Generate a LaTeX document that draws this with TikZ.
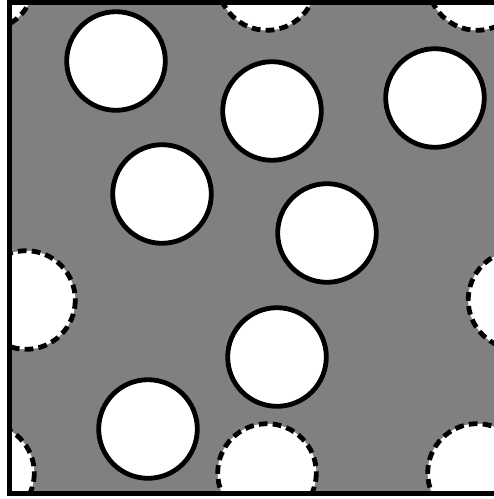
\documentclass[tikz,border=0pt]{standalone}

\begin{document}
\begin{tikzpicture}[x=0.5mm,y=-0.5mm]
\tikzset{
  cell/.style={fill=gray},
  particle/.style={draw,fill=white,line width=2.4mm},
  ghost/.style={draw,fill=white,line width=2.4mm,dash pattern=on 4.4mm off 2.6mm},
  cellwall/.style={draw,line width=2.5mm}
}
\useasboundingbox (0,0) rectangle (494,499);
\fill[cell] (9,2) rectangle (500.5,493.5);
% periodic images cut by the cell
\begin{scope}
\clip (9,2) rectangle (500.5,493.5);
\foreach \cx/\cy in {-15/-19,267/-19,477/-19,26/300,517.5/300,-15/473,267/473,477/473}
  \draw[ghost] (\cx,\cy) circle (49.3);
\end{scope}
% particles inside the cell
\foreach \cx/\cy in {116/61,272/111,435/98,162/194,327/233,277/357,148/429}
  \draw[particle] (\cx,\cy) circle (49.3);
\draw[cellwall] (9,2) rectangle (500.5,493.5);
\end{tikzpicture}
\end{document}
